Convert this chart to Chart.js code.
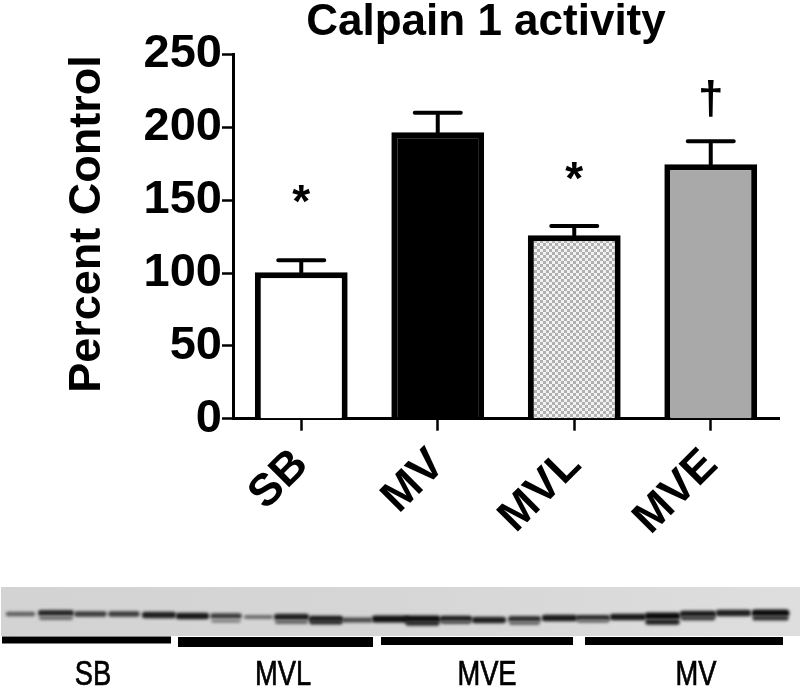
<!DOCTYPE html>
<html>
<head>
<meta charset="utf-8">
<style>
  html, body { margin: 0; padding: 0; background: #fff; }
  #wrap { position: relative; width: 800px; height: 692px; overflow: hidden; }
  canvas { position: absolute; left: 0; }
  #chartMain { top: 0; }
  #chartBlot { top: 570px; }
</style>
<script src="https://cdn.jsdelivr.net/npm/chart.js@4"></script>
</head>
<body>
<div id="wrap">
  <canvas id="chartMain" width="800" height="570"></canvas>
  <canvas id="chartBlot" width="800" height="122"></canvas>
</div>
<script>
const categories = ['SB', 'MV', 'MVL', 'MVE'];
const means = [100.6, 196.6, 126, 174.7];
const errorTops = [108.8, 210, 132.2, 190.4];
const marks = ['*', '', '*', '†'];
const markLevels = [147, null, 163, 218];
const yTicks = [0, 50, 100, 150, 200, 250];

// blot bands: x from, x to, y, strength 0-1
const bandFrom = [8, 41, 77, 111, 145, 179, 213, 246, 277, 312, 345, 375, 408, 443, 475, 511, 545, 579, 613, 648, 683, 719, 755];
const bandTo = [33, 71, 104, 137, 173, 206, 239, 271, 306, 340, 370, 405, 437, 469, 503, 538, 574, 607, 643, 677, 713, 748, 786];
const bandY = [614, 613, 614, 614, 615, 616, 616, 617, 617, 619, 620, 619, 619, 619, 620, 619, 618, 618, 617, 616, 614, 613, 613];
const bandStrength = [.4, .8, .65, .65, .85, .9, .65, .3, .85, .9, .55, .95, 1, .9, .85, .75, .9, .8, .9, 1, .9, .85, 1];
const lowerFrom = [41, 213, 277, 312, 408, 443, 511, 579, 648, 683, 755];
const lowerTo = [71, 239, 306, 340, 437, 469, 538, 607, 677, 713, 786];
const lowerY = [618, 621, 622, 622, 623, 622, 623, 621, 622, 618, 618];
const lowerStrength = [.3, .15, .35, .7, .75, .4, .3, .2, .85, .6, .7];

const groupNames = ['SB', 'MVL', 'MVE', 'MV'];
const groupFrom = [2, 178, 381, 585];
const groupTo = [171, 373, 573, 783];
const groupY = [640, 642, 641, 641];
const groupThick = [7, 10, 8, 8];
const groupLabelX = [93, 283, 487, 696];

function checkerPattern() {
  const c = document.createElement('canvas');
  c.width = 6; c.height = 6;
  const g = c.getContext('2d');
  g.fillStyle = '#f2f2f2';
  g.fillRect(0, 0, 6, 6);
  g.fillStyle = '#b0b0b0';
  g.fillRect(0, 0, 3, 3);
  g.fillRect(3, 3, 3, 3);
  return g.createPattern(c, 'repeat');
}

const annotations = {
  id: 'annotations',
  afterDatasetsDraw(chart) {
    const { ctx, scales: { x, y } } = chart;
    ctx.save();
    ctx.strokeStyle = '#000';
    ctx.lineWidth = 4;
    ctx.lineCap = 'round';
    means.forEach((m, i) => {
      const px = x.getPixelForValue(i);
      ctx.beginPath();
      ctx.moveTo(px, y.getPixelForValue(m));
      ctx.lineTo(px, y.getPixelForValue(errorTops[i]));
      ctx.moveTo(px - 23, y.getPixelForValue(errorTops[i]));
      ctx.lineTo(px + 23, y.getPixelForValue(errorTops[i]));
      ctx.stroke();
    });
    ctx.fillStyle = '#000';
    ctx.textAlign = 'center';
    ctx.textBaseline = 'middle';
    ctx.font = 'bold 46px "Liberation Sans"';
    marks.forEach((t, i) => {
      if (t) ctx.fillText(t, x.getPixelForValue(i), y.getPixelForValue(markLevels[i]));
    });
    ctx.font = 'bold 44px "Liberation Sans"';
    ctx.fillText('Calpain 1 activity', 486, 23);
    ctx.font = 'bold 45px "Liberation Sans"';
    ctx.translate(88, 224);
    ctx.rotate(-Math.PI / 2);
    ctx.fillText('Percent Control', 0, 0);
    ctx.restore();
  }
};

new Chart(document.getElementById('chartMain').getContext('2d'), {
  type: 'bar',
  data: {
    labels: categories,
    datasets: [{
      data: means,
      backgroundColor: ['#ffffff', '#000000', checkerPattern(), '#a9a9a9'],
      borderColor: '#000',
      borderWidth: 6,
      categoryPercentage: 1,
      barPercentage: 0.68
    }]
  },
  options: {
    responsive: false,
    animation: false,
    layout: { padding: { top: 54.5, right: 21, left: 0, bottom: 0 } },
    plugins: { legend: { display: false }, tooltip: { enabled: false } },
    scales: {
      x: {
        afterFit: s => { s.height = 151.3; },
        border: { color: '#000', width: 3 },
        grid: { drawOnChartArea: false, offset: false, color: '#000', tickLength: 12, tickWidth: 2.5 },
        ticks: {
          color: '#000',
          font: { family: '"Liberation Sans"', size: 45, weight: 'bold' },
          minRotation: 45,
          maxRotation: 45,
          padding: 8
        }
      },
      y: {
        min: 0,
        max: 250,
        afterFit: s => { s.width = 233; },
        afterBuildTicks: s => { s.ticks = yTicks.map(v => ({ value: v })); },
        border: { color: '#000', width: 3 },
        grid: { drawOnChartArea: false, color: '#000', tickLength: 11, tickWidth: 2.5 },
        ticks: {
          color: '#000',
          padding: 0,
          font: { family: '"Liberation Sans"', size: 47, weight: 'bold' }
        }
      }
    }
  },
  plugins: [annotations]
});

function segment(x0, x1, y, color, width, cap) {
  return {
    data: [{ x: x0, y: y }, { x: x1, y: y }],
    borderColor: color,
    borderWidth: width,
    borderCapStyle: cap,
    pointRadius: 0,
    tension: 0
  };
}

function bandShade(s) {
  const v = Math.round(150 - 140 * s);
  return 'rgb(' + v + ',' + v + ',' + v + ')';
}

const blotSets = [];
lowerFrom.forEach((f, i) => {
  blotSets.push(segment(f, lowerTo[i], lowerY[i], bandShade(lowerStrength[i]), 3 + 3 * lowerStrength[i], 'round'));
});
bandFrom.forEach((f, i) => {
  blotSets.push(segment(f, bandTo[i], bandY[i], bandShade(bandStrength[i]), 3 + 4 * bandStrength[i], 'round'));
});
const bandCount = blotSets.length;
groupFrom.forEach((f, i) => {
  blotSets.push(segment(f, groupTo[i], groupY[i], '#000', groupThick[i], 'butt'));
});

const blotPaint = {
  id: 'blotPaint',
  beforeDatasetsDraw(chart) {
    const { ctx, scales: { x, y } } = chart;
    const top = y.getPixelForValue(587), bottom = y.getPixelForValue(636);
    const left = x.getPixelForValue(1), right = x.getPixelForValue(800);
    const g = ctx.createLinearGradient(left, 0, right, 0);
    g.addColorStop(0, '#d3d3d3');
    g.addColorStop(0.5, '#d6d6d6');
    g.addColorStop(1, '#dedede');
    ctx.fillStyle = g;
    ctx.fillRect(left, top, right - left, bottom - top);
  },
  beforeDatasetDraw(chart, args) {
    chart.ctx.save();
    chart.ctx.filter = args.index < bandCount ? 'blur(1.7px)' : 'blur(0.5px)';
  },
  afterDatasetDraw(chart) {
    chart.ctx.restore();
  },
  afterDatasetsDraw(chart) {
    const { ctx, scales: { x, y } } = chart;
    ctx.fillStyle = '#000';
    ctx.strokeStyle = '#000';
    ctx.lineWidth = 0.7;
    ctx.textAlign = 'center';
    ctx.textBaseline = 'middle';
    ctx.font = '35px "Liberation Sans"';
    groupNames.forEach((t, i) => {
      ctx.save();
      ctx.translate(x.getPixelForValue(groupLabelX[i]), y.getPixelForValue(675));
      ctx.scale(0.78, 1);
      ctx.fillText(t, 0, 0);
      ctx.strokeText(t, 0, 0);
      ctx.restore();
    });
  }
};

new Chart(document.getElementById('chartBlot').getContext('2d'), {
  type: 'line',
  data: { datasets: blotSets },
  options: {
    responsive: false,
    animation: false,
    layout: { padding: 0 },
    plugins: { legend: { display: false }, tooltip: { enabled: false } },
    scales: {
      x: { type: 'linear', min: 0, max: 800, display: false },
      y: { type: 'linear', min: 570, max: 692, reverse: true, display: false }
    }
  },
  plugins: [blotPaint]
});
</script>
</body>
</html>
